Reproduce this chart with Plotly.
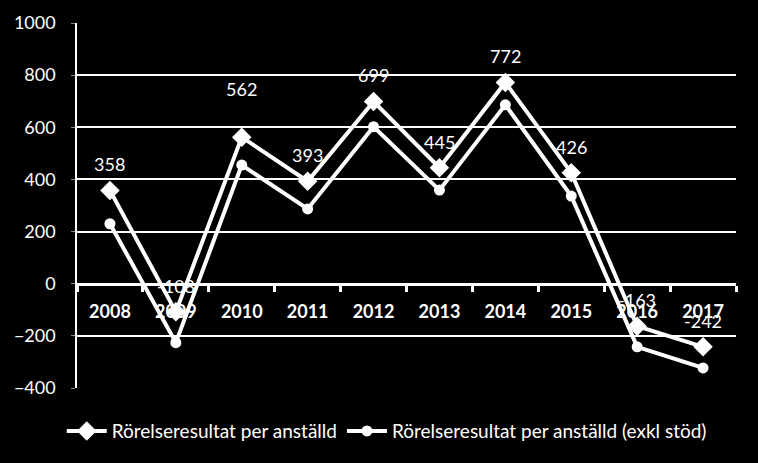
import plotly.graph_objects as go

years = ["2008", "2009", "2010", "2011", "2012", "2013", "2014", "2015", "2016", "2017"]
per_anstalld = [358, -108, 562, 393, 699, 445, 772, 426, -163, -242]
per_anstalld_exkl = [230, -226, 455, 287, 602, 359, 686, 336, -242, -323]
series_names = ["Rörelseresultat per anställd", "Rörelseresultat per anställd (exkl stöd)"]
y_ticks = [-400, -200, 0, 200, 400, 600, 800, 1000]

FONT = "Lato"
y_min, y_max = -400, 1000

fig = go.Figure()
fig.add_trace(go.Scatter(
    x=years, y=per_anstalld, name=series_names[0], mode="lines+markers",
    line=dict(color="white", width=4),
    marker=dict(symbol="diamond", size=15, color="white"),
))
fig.add_trace(go.Scatter(
    x=years, y=per_anstalld_exkl, name=series_names[1], mode="lines+markers",
    line=dict(color="white", width=4),
    marker=dict(symbol="circle", size=11, color="white"),
))

annotations = []
for i, (yr, v) in enumerate(zip(years, per_anstalld)):
    annotations.append(dict(
        xref="x", yref="y", x=i, y=v, text=str(v), showarrow=False,
        yshift=48 if yr == "2010" else 26,
        font=dict(family=FONT, size=18, color="white"),
    ))

zero_pos = (0 - y_min) / (y_max - y_min)

fig.update_layout(
    width=758, height=463,
    paper_bgcolor="black", plot_bgcolor="black",
    margin=dict(l=77, r=22, t=23, b=75),
    font=dict(family=FONT, color="white", size=18),
    showlegend=True,
    annotations=annotations,
    legend=dict(
        orientation="h", x=0.47, xanchor="center", y=-0.118, yanchor="middle",
        font=dict(family=FONT, size=19, color="white"),
        bgcolor="rgba(0,0,0,0)", itemwidth=40, tracegroupgap=0,
    ),
    xaxis=dict(
        type="category", anchor="free", position=zero_pos,
        showline=True, linecolor="white", linewidth=3,
        ticks="outside", tickson="boundaries", ticklen=6, tickwidth=3, tickcolor="white",
        showgrid=False, zeroline=False,
        tickfont=dict(family=FONT, size=18, color="white", weight="bold"),
        ticklabelstandoff=11,
        layer="below traces",
        range=[-0.5, 9.5],
    ),
    yaxis=dict(
        range=[y_min, y_max], tickvals=y_ticks,
        showline=True, linecolor="white", linewidth=1.5,
        showgrid=True, gridcolor="white", gridwidth=1.5,
        zeroline=False,
        ticks="outside", ticklen=4, tickwidth=1, tickcolor="#888888",
        tickfont=dict(family=FONT, size=18, color="white"),
        ticklabelstandoff=12,
    ),
)

fig.write_html("out.html")
